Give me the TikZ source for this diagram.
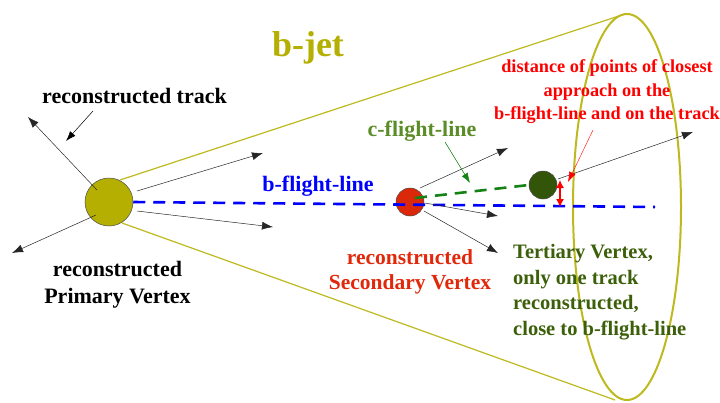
\documentclass[tikz,border=0pt]{standalone}
\usepackage{fontspec}
\setmainfont{Liberation Serif}
\usetikzlibrary{arrows.meta,calc}
\definecolor{olivej}{RGB}{190,185,30}
\definecolor{pvfill}{RGB}{180,175,0}
\definecolor{svfill}{RGB}{220,40,10}
\definecolor{tvfill}{RGB}{50,85,10}
\definecolor{tvtext}{RGB}{60,95,10}
\definecolor{cfltext}{RGB}{90,140,40}
\definecolor{cflline}{RGB}{20,130,20}
\definecolor{svtext}{RGB}{225,40,10}
\begin{document}
\begin{tikzpicture}[x=1pt,y=-1pt,
  track/.style={draw=black!85, line width=0.5pt, -{Latex[length=11pt,width=8pt]}},
  thinarrow/.style={line width=0.5pt, -{Latex[length=10pt,width=7pt]}},
  lbl/.style={font=\bfseries\fontsize{22}{27}\selectfont, align=center, inner sep=0pt},
  vtx/.style={circle, draw=black!70, line width=0.5pt, inner sep=0pt},
  flight/.style={line width=2.6pt, dash pattern=on 12pt off 8pt}]
\useasboundingbox (0,0) rectangle (720,402);
% cone
\coordinate (ct) at (625,14);
\coordinate (cb) at (615,400);
\coordinate (cu0) at (120,180);
\coordinate (cl0) at (122,223);
\draw[olivej, line width=1.2pt] (cu0) -- (ct);
\draw[olivej, line width=1.2pt] (cl0) -- (cb);
\draw[olivej, line width=2pt] (627,207) ellipse [x radius=54, y radius=193];
% vertices
\node[vtx, fill=pvfill, minimum size=48pt] (pv) at (109,202) {};
\node[vtx, fill=svfill, minimum size=28pt] (sv) at (410,202) {};
\node[vtx, fill=tvfill, minimum size=28pt] (tv) at (543,185) {};
% flight lines
\coordinate (bend) at (655,207);
\draw[blue, flight] (pv.east) -- (bend);
\draw[cflline, flight] ($(sv)+(5,-4)$) -- (tv.west);
% primary tracks
\coordinate (p1) at (28,117);
\coordinate (p2) at (12,253);
\coordinate (p3) at (263,153);
\coordinate (p4) at (273,227);
\draw[track] ($(pv)+(-12,-12)$) -- (p1);
\draw[track] ($(pv)+(-13,13)$) -- (p2);
\draw[track] ($(pv)+(28,-11)$) -- (p3);
\draw[track] ($(pv)+(28,9)$) -- (p4);
% secondary tracks
\coordinate (s1) at (508,148);
\coordinate (s2) at (498,216);
\coordinate (s3) at (498,253);
\draw[track] ($(sv)+(10,-14)$) -- (s1);
\draw[track] ($(sv)+(15,1)$) -- (s2);
\draw[track] ($(sv)+(14,9)$) -- (s3);
% tertiary track
\coordinate (t1) at (693,132);
\draw[track] ($(tv)+(15,-6)$) -- (t1);
% closest approach
\coordinate (da) at (560,180);
\coordinate (db) at (560,207);
\draw[red, line width=1.2pt, {Latex[length=8pt,width=8pt]}-{Latex[length=8pt,width=8pt]}] (da) -- (db);
% labels
\node[font=\bfseries\fontsize{36}{40}\selectfont, text=pvfill, inner sep=0pt] (bjet) at (308,48) {b-jet};
\node[lbl] (rtrack) at (134.5,96) {reconstructed track};
\coordinate (rt2) at (66,141);
\draw[thinarrow] (93,111) -- (rt2);
\node[lbl] (rpv) at (117.5,285) {reconstructed\\Primary Vertex};
\node[lbl, text=blue] (bfl) at (318,186) {b-flight-line};
\node[lbl, text=cfltext] (cfl) at (422,131) {c-flight-line};
\draw[thinarrow, draw=cflline, fill=cflline] (445,142) -- (470,183);
\node[lbl, text=svtext, font=\bfseries\fontsize{21.5}{25.5}\selectfont] (rsv) at (410,272) {reconstructed\\Secondary Vertex};
\node[lbl, text=tvtext, align=left, anchor=west, font=\bfseries\fontsize{20.5}{25.5}\selectfont] (tert) at (513,292) {Tertiary Vertex,\\only one track\\reconstructed,\\close to b-flight-line};
\node[lbl, text=red, font=\bfseries\fontsize{18.3}{23.5}\selectfont] (dist) at (607,92) {distance of points of closest\\approach on the\\b-flight-line and on the track};
\draw[red, line width=0.4pt, -{Latex[length=10pt,width=7pt]}] (593,130) -- (568,182);
\end{tikzpicture}
\end{document}
